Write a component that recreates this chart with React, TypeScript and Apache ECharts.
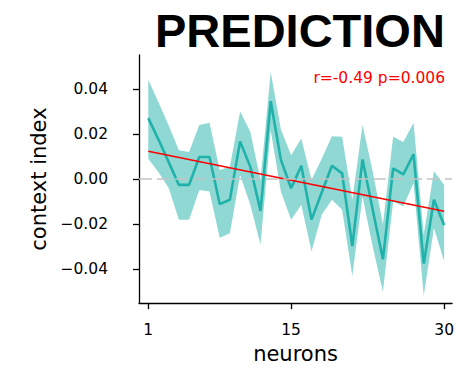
import React, { useEffect, useRef } from "react";
import * as echarts from "echarts";

const neurons = [1, 2, 3, 4, 5, 6, 7, 8, 9, 10, 11, 12, 13, 14, 15, 16, 17, 18, 19, 20, 21, 22, 23, 24, 25, 26, 27, 28, 29, 30];
const meanValues = [
  0.027, 0.0175, 0.0075, -0.0026, -0.0026, 0.0098, 0.0098, -0.0111, -0.0092, 0.0167,
  0.0054, -0.0141, 0.0345, 0.0085, -0.0041, 0.0059, -0.018, -0.006, 0.0059, 0.0025,
  -0.0297, 0.0087, -0.0136, -0.0356, 0.0047, 0.0021, 0.011, -0.0375, -0.0092, -0.0205,
];
const upperValues = [
  0.044, 0.034, 0.0237, 0.0128, 0.012, 0.024, 0.025, 0.004, 0.0054, 0.03,
  0.021, -0.0004, 0.0475, 0.022, 0.0105, 0.018, -0.0004, 0.009, 0.019, 0.0187,
  -0.0092, 0.024, 0.0032, -0.02, 0.0187, 0.0164, 0.025, -0.0246, 0.0035, -0.0026,
];
const lowerValues = [
  0.009, 0.003, -0.004, -0.018, -0.018, -0.0048, -0.0055, -0.026, -0.024, 0.0018,
  -0.0114, -0.029, 0.0215, -0.0055, -0.018, -0.0114, -0.032, -0.0158, -0.0092, -0.0136,
  -0.043, -0.0077, -0.03, -0.05, -0.0099, -0.0121, -0.0019, -0.0517, -0.0217, -0.0363,
];
const fitX = [1, 30];
const fitY = [0.0123, -0.0143];
const xTickValues = [1, 15, 30];
const yTickValues = [-0.04, -0.02, 0, 0.02, 0.04];
const statText = "r=-0.49 p=0.006";
const titleText = "PREDICTION";

export default function App() {
  const ref = useRef<HTMLDivElement>(null);
  useEffect(() => {
    if (!ref.current) return;
    const chart = echarts.init(ref.current, null, { renderer: "svg" });
    const font = "DejaVu Sans";
    const bandData = neurons.map((n, i) => [n, lowerValues[i], upperValues[i]]);
    chart.setOption({
      animation: false,
      backgroundColor: "#ffffff",
      grid: { left: 139, right: 4, top: 55, bottom: 64, containLabel: false },
      xAxis: {
        type: "value",
        min: 0.09,
        max: 30.78,
        name: "neurons",
        nameLocation: "middle",
        nameGap: 35,
        nameTextStyle: { fontFamily: font, fontSize: 21, color: "#000" },
        axisLine: { onZero: false, lineStyle: { color: "#000", width: 1.3 } },
        axisTick: { show: true, length: 6, customValues: xTickValues, lineStyle: { color: "#000", width: 1.3 } },
        axisLabel: { customValues: xTickValues, fontFamily: font, fontSize: 15.5, color: "#000", margin: 19 },
        splitLine: { show: false },
      },
      yAxis: {
        type: "value",
        min: -0.055,
        max: 0.055,
        name: "context index",
        nameLocation: "middle",
        nameGap: 86,
        nameTextStyle: { fontFamily: font, fontSize: 21, color: "#000" },
        axisLine: { show: true, onZero: false, lineStyle: { color: "#000", width: 1.3 } },
        axisTick: { show: true, length: 6, customValues: yTickValues, lineStyle: { color: "#000", width: 1.3 } },
        axisLabel: {
          customValues: yTickValues,
          fontFamily: font,
          fontSize: 15.5,
          color: "#000",
          margin: 31,
          formatter: (v: number) => (v < 0 ? "\u2212" + Math.abs(v).toFixed(2) : v.toFixed(2)),
        },
        splitLine: { show: false },
      },
      graphic: [
        {
          type: "text",
          left: 155,
          top: 7,
          style: { text: titleText, fontFamily: "Liberation Sans", fontWeight: "bold", fontSize: 47, fill: "#000" },
        },
        {
          type: "text",
          right: 12,
          top: 70,
          style: { text: statText, fontFamily: font, fontSize: 15.5, fill: "#ff0000" },
        },
      ],
      series: [
        {
          type: "custom",
          data: bandData,
          z: 1,
          renderItem: (params: any, api: any) => {
            if (params.dataIndex !== 0) return null;
            const top = bandData.map((d) => api.coord([d[0], d[2]]));
            const bottom = bandData.map((d) => api.coord([d[0], d[1]])).reverse();
            return {
              type: "polygon",
              shape: { points: top.concat(bottom) },
              style: { fill: "rgba(32,178,170,0.5)", stroke: "none" },
            };
          },
        },
        {
          type: "line",
          data: [],
          z: 2,
          markLine: {
            silent: true,
            symbol: "none",
            label: { show: false },
            lineStyle: { color: "#c4c4c4", width: 1.5, type: [13, 5] },
            data: [{ yAxis: 0 }],
          },
        },
        {
          type: "line",
          data: neurons.map((n, i) => [n, meanValues[i]]),
          showSymbol: false,
          z: 3,
          lineStyle: { color: "#20b2aa", width: 2.6 },
        },
        {
          type: "line",
          data: fitX.map((x, i) => [x, fitY[i]]),
          showSymbol: false,
          z: 4,
          lineStyle: { color: "#ff0000", width: 1.5 },
        },
      ],
    });
    return () => chart.dispose();
  }, []);
  return <div ref={ref} style={{ position: "fixed", left: 0, top: 0, width: 457, height: 369 }} />;
}
